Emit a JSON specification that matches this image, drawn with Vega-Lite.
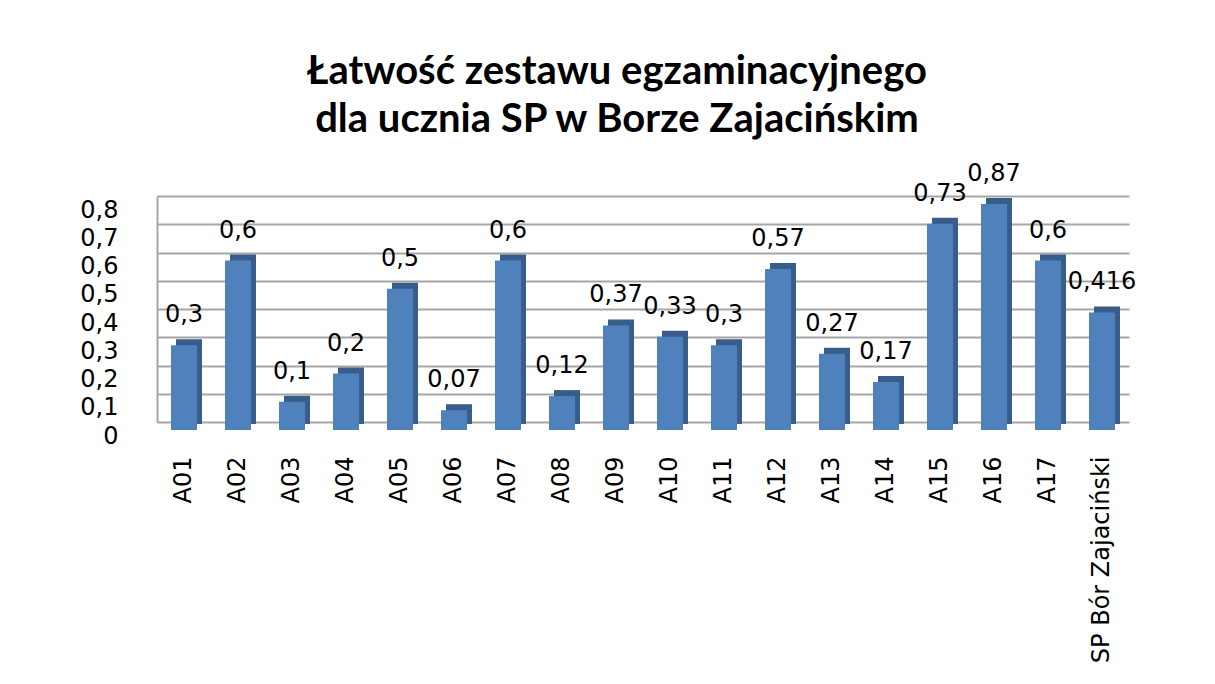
{
  "$schema": "https://vega.github.io/schema/vega-lite/v6.json",
  "autosize": "none",
  "width": 972,
  "height": 226,
  "padding": {"left": 157, "top": 196, "right": 86, "bottom": 262},
  "background": "white",
  "config": {
    "locale": {"number": {"decimal": ",", "thousands": " ", "grouping": [3], "currency": ["", " zł"]}},
    "view": {"stroke": null},
    "font": "DejaVu Sans"
  },
  "title": {
    "text": ["Łatwość zestawu egzaminacyjnego", "dla ucznia SP w Borze Zajacińskim"],
    "font": "Lato",
    "fontSize": 40,
    "fontWeight": "bold",
    "color": "#000000",
    "lineHeight": 48,
    "anchor": "middle",
    "dx": -26,
    "offset": 22
  },
  "data": {
    "values": [
      {"item": "A01", "value": 0.3},
      {"item": "A02", "value": 0.6},
      {"item": "A03", "value": 0.1},
      {"item": "A04", "value": 0.2},
      {"item": "A05", "value": 0.5},
      {"item": "A06", "value": 0.07},
      {"item": "A07", "value": 0.6},
      {"item": "A08", "value": 0.12},
      {"item": "A09", "value": 0.37},
      {"item": "A10", "value": 0.33},
      {"item": "A11", "value": 0.3},
      {"item": "A12", "value": 0.57},
      {"item": "A13", "value": 0.27},
      {"item": "A14", "value": 0.17},
      {"item": "A15", "value": 0.73},
      {"item": "A16", "value": 0.87},
      {"item": "A17", "value": 0.6},
      {"item": "SP Bór Zajaciński", "value": 0.416}
    ]
  },
  "encoding": {
    "x": {
      "field": "item",
      "type": "nominal",
      "sort": null,
      "scale": {"paddingInner": 0, "paddingOuter": 0},
      "axis": {
        "title": null,
        "labelAngle": -90,
        "labelAlign": "right",
        "labelBaseline": "middle",
        "labelFont": "DejaVu Sans",
        "labelFontSize": 24,
        "labelColor": "#000000",
        "labelPadding": 34,
        "labelLimit": 0,
        "ticks": false,
        "domain": false,
        "grid": false
      }
    },
    "y": {
      "field": "value",
      "type": "quantitative",
      "scale": {"domain": [0, 0.8], "clamp": true, "nice": false, "zero": true},
      "axis": {
        "title": null,
        "values": [0, 0.1, 0.2, 0.3, 0.4, 0.5, 0.6, 0.7, 0.8],
        "format": "~r",
        "labelFont": "DejaVu Sans",
        "labelFontSize": 24,
        "labelColor": "#000000",
        "labelPadding": 39,
        "labelOffset": 14,
        "ticks": false,
        "domain": true,
        "domainColor": "#a6a6a6",
        "domainWidth": 2,
        "grid": true,
        "gridColor": "#a6a6a6",
        "gridWidth": 2
      }
    }
  },
  "layer": [
    {
      "mark": {"type": "bar", "width": 26, "color": "#385d8a", "xOffset": 5, "yOffset": 2, "y2Offset": 2}
    },
    {
      "mark": {"type": "bar", "width": 26, "color": "#4f81bd", "yOffset": 8, "y2Offset": 8}
    },
    {
      "mark": {"type": "text", "font": "DejaVu Sans", "fontSize": 24, "color": "#000000", "baseline": "middle", "dy": -22},
      "encoding": {"text": {"field": "value", "type": "quantitative", "format": "~r"}}
    }
  ]
}
